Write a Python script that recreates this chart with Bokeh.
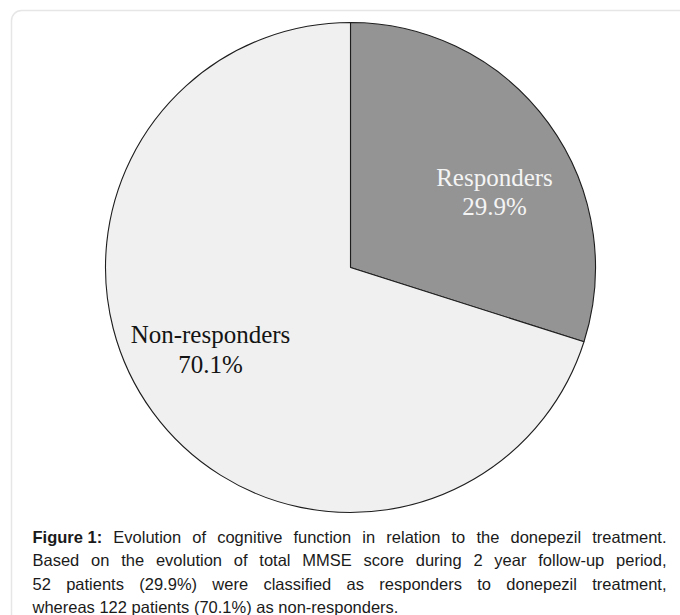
import math
from bokeh.plotting import figure
from bokeh.models import Range1d, BoxAnnotation
from bokeh.core.properties import value
from bokeh.embed import file_html
from bokeh.resources import INLINE

# ---- data ----
categories = ["Responders", "Non-responders"]
percentages = [29.9, 70.1]
patients = [52, 122]
slice_colors = ["#949494", "#f0f0f0"]
label_colors = ["#f4f4f4", "#141414"]

caption_bold = "Figure 1:"
caption_lines = [
    "Evolution of cognitive function in relation to the donepezil treatment.",
    "Based on the evolution of total MMSE score during 2 year follow-up period,",
    "52 patients (29.9%) were classified as responders to donepezil treatment,",
    "whereas 122 patients (70.1%) as non-responders.",
]

W, H = 680, 615
def Y(sy):
    return H - sy

p = figure(width=W, height=H, output_backend="svg", toolbar_location=None,
           x_range=Range1d(0, W), y_range=Range1d(0, H),
           x_axis_location=None, y_axis_location=None, min_border=0)
p.grid.visible = False
p.outline_line_color = None
p.background_fill_color = "white"
p.border_fill_color = "white"

# frame box with rounded corner
p.add_layout(BoxAnnotation(left=11, right=W + 30, top=Y(10), bottom=-30,
                           fill_color=None, fill_alpha=0, line_color="#adadad",
                           line_width=1.5, border_radius=10))

# ---- pie ----
cx, cy, r = 350, Y(267), 245
total = sum(percentages)
cum = 0.0
starts, ends = [], []
for v in percentages:
    starts.append(math.pi / 2 - 2 * math.pi * cum / total)
    cum += v
    ends.append(math.pi / 2 - 2 * math.pi * cum / total)

p.wedge(x=[cx] * len(percentages), y=[cy] * len(percentages), radius=r,
        start_angle=starts, end_angle=ends, direction="clock",
        fill_color=slice_colors, line_color="#1e1e1e", line_width=1.1)

# slice labels
label_pos = [(494, 177, 206), (210, 334, 364)]
for i, cat in enumerate(categories):
    lx, b1, b2 = label_pos[i]
    p.text(x=[lx, lx], y=[Y(b1), Y(b2)],
           text=[cat, f"{percentages[i]:.1f}%"],
           text_font=value("Liberation Serif"), text_font_size="25px",
           text_align="center", text_baseline="alphabetic",
           text_color=label_colors[i])

# ---- caption (justified) ----
ARIAL = {}
for ch in "abdeghnopqu0123456789":
    ARIAL[ch] = 556
for ch in "ckszvxy":
    ARIAL[ch] = 500
for ch in "ft.,: ":
    ARIAL[ch] = 278
for ch in "ijl":
    ARIAL[ch] = 222
for ch in "r-()":
    ARIAL[ch] = 333
ARIAL.update({"m": 833, "w": 722, "%": 889, "B": 667, "E": 667, "S": 667,
              "M": 833, "F": 611})
ARIAL_B = {"F": 611, "i": 278, "g": 611, "u": 611, "r": 389, "e": 556,
           "1": 556, ":": 333, " ": 278}

fs = 16.5
left, right = 32, 666
baselines = [536, 559.5, 583, 606]
cap_font = "Liberation Sans"

def wwidth(word, bold):
    tab = ARIAL_B if bold else ARIAL
    return sum(tab.get(c, 556) for c in word) * fs / 1000.0

reg_x, reg_y, reg_t = [], [], []
bold_x, bold_y, bold_t = [], [], []
for li, line in enumerate(caption_lines):
    tokens = []
    if li == 0:
        tokens.append((caption_bold, True))
    tokens += [(w, False) for w in line.split(" ")]
    widths = [wwidth(w, b) for w, b in tokens]
    if li < len(caption_lines) - 1:
        gap = (right - left - sum(widths)) / (len(tokens) - 1)
    else:
        gap = 278 * fs / 1000.0
    x = left
    for (w, b), wd in zip(tokens, widths):
        if b:
            bold_x.append(x); bold_y.append(Y(baselines[li])); bold_t.append(w)
        else:
            reg_x.append(x); reg_y.append(Y(baselines[li])); reg_t.append(w)
        x += wd + gap

p.text(x=reg_x, y=reg_y, text=reg_t, text_font=value(cap_font),
       text_font_size=f"{fs}px", text_align="left", text_baseline="alphabetic",
       text_color="#1a1a1a")
p.text(x=bold_x, y=bold_y, text=bold_t, text_font=value(cap_font),
       text_font_size=f"{fs}px", text_font_style="bold", text_align="left",
       text_baseline="alphabetic", text_color="#1a1a1a")

open("out.html", "w").write(file_html(p, INLINE))
